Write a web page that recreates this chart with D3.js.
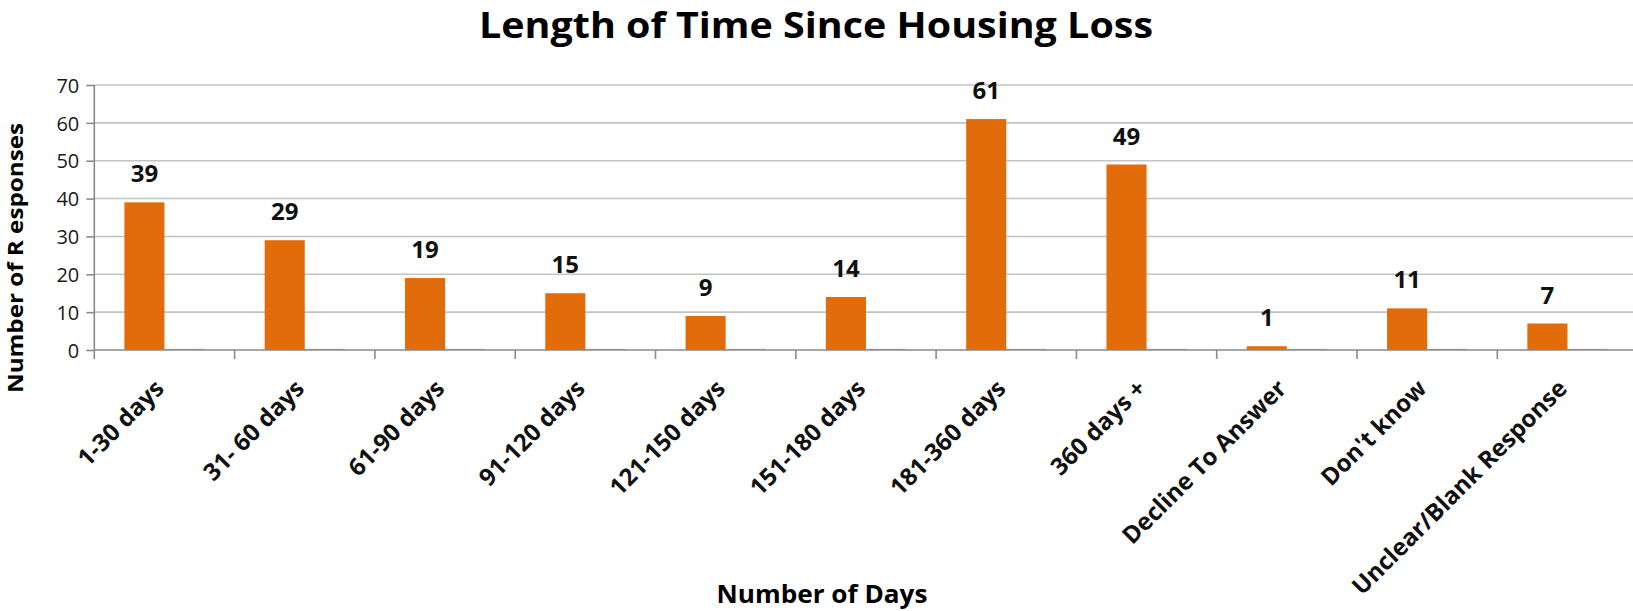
<!DOCTYPE html>
<html>
<head>
<meta charset="utf-8">
<script src="https://cdn.jsdelivr.net/npm/d3@7/dist/d3.min.js"></script>
<style>
  html, body { margin: 0; padding: 0; background: #fff; }
  svg { display: block; }
  text { font-family: "Open Sans", "Liberation Sans", sans-serif; }
</style>
</head>
<body>
<svg id="chart" width="1633" height="611"></svg>
<script>
const categories = ["1-30 days", "31- 60 days", "61-90 days", "91-120 days", "121-150 days",
  "151-180 days", "181-360 days", "360 days +", "Decline To Answer", "Don't know",
  "Unclear/Blank Response"];
const responses = [39, 29, 19, 15, 9, 14, 61, 49, 1, 11, 7];
const secondSeries = [0, 0, 0, 0, 0, 0, 0, 0, 0, 0, 0];
const yTicks = [0, 10, 20, 30, 40, 50, 60, 70];
const titleText = "Length of Time Since Housing Loss";
const xTitleText = "Number of Days";
const yTitleText = "Number of R esponses";

(function () {
const W = 1633, H = 611;
const plotLeft = 94.3, plotTop = 85, plotBottom = 350;
const band = 140.3;
const svg = d3.select("#chart");

const x = d3.scaleBand().domain(categories)
  .range([plotLeft, plotLeft + band * categories.length]).paddingInner(0).paddingOuter(0);
const xs = d3.scaleBand().domain(["a", "b"]).range([0, x.bandwidth()])
  .paddingInner(0).paddingOuter(0.75);
const y = d3.scaleLinear().domain([0, 70]).range([plotBottom, plotTop]);

// gridlines
svg.append("g").selectAll("line").data(yTicks.filter(d => d > 0)).join("line")
  .attr("x1", plotLeft).attr("x2", W)
  .attr("y1", d => y(d)).attr("y2", d => y(d))
  .attr("stroke", "#c3c3c3").attr("stroke-width", 1.6);

// y axis
const yAxis = d3.axisLeft(y).tickValues(yTicks).tickSize(8).tickPadding(7).tickFormat(d3.format("d"));
const gy = svg.append("g").attr("transform", `translate(${plotLeft},0)`).call(yAxis);
gy.select(".domain").attr("stroke", "#8a8a8a").attr("stroke-width", 1.6)
  .attr("d", `M0,${plotTop}V${plotBottom + 9}`);
gy.selectAll(".tick line").attr("stroke", "#8a8a8a").attr("stroke-width", 1.6);
gy.selectAll(".tick text").attr("font-size", 20).attr("fill", "#1a1a1a")
  .attr("font-family", "Open Sans").attr("dy", "0.36em");

// bars
svg.append("g").selectAll("rect").data(responses).join("rect")
  .attr("x", (d, i) => x(categories[i]) + xs("a"))
  .attr("width", xs.bandwidth())
  .attr("y", d => y(d))
  .attr("height", d => y(0) - y(d))
  .attr("fill", "#e36c0a");

// second (zero) series
svg.append("g").selectAll("rect").data(secondSeries).join("rect")
  .attr("x", (d, i) => x(categories[i]) + xs("b"))
  .attr("width", xs.bandwidth())
  .attr("y", d => y(d) - 1.2)
  .attr("height", d => y(0) - y(d) + 1.2)
  .attr("fill", "#9c6a60").attr("opacity", 0.55);

// x axis
svg.append("line").attr("x1", plotLeft).attr("x2", W).attr("y1", plotBottom).attr("y2", plotBottom)
  .attr("stroke", "#8a8a8a").attr("stroke-width", 1.6);
const boundaries = d3.range(1, categories.length + 1).map(i => i === categories.length ? x.range()[1] : x(categories[i]));
svg.append("g").selectAll("line").data(boundaries).join("line")
  .attr("x1", d => d).attr("x2", d => d)
  .attr("y1", plotBottom).attr("y2", plotBottom + 9)
  .attr("stroke", "#8a8a8a").attr("stroke-width", 1.6);

// data labels
svg.append("g").selectAll("text").data(responses).join("text")
  .attr("x", (d, i) => x(categories[i]) + xs("a") + xs.bandwidth() / 2)
  .attr("y", d => y(d) - 20)
  .attr("text-anchor", "middle")
  .attr("font-size", 24).attr("font-weight", 700).attr("fill", "#111")
  .text(d => d);

// category labels
svg.append("g").selectAll("text").data(categories).join("text")
  .attr("transform", d => `translate(${x(d) + x.bandwidth() / 2 + 1},${plotBottom + 40}) rotate(-45)`)
  .attr("text-anchor", "end")
  .attr("font-size", 24).attr("font-weight", 700).attr("fill", "#111")
  .text(d => d);

// title
svg.append("text").attr("x", 816).attr("y", 38).attr("text-anchor", "middle")
  .attr("font-size", 35).attr("font-weight", 700).attr("fill", "#000")
  .attr("textLength", 674).attr("lengthAdjust", "spacingAndGlyphs")
  .text(titleText);

// x axis title
svg.append("text").attr("x", 822).attr("y", 603).attr("text-anchor", "middle")
  .attr("font-size", 25).attr("font-weight", 700).attr("fill", "#000")
  .attr("textLength", 211).attr("lengthAdjust", "spacingAndGlyphs")
  .text(xTitleText);

// y axis title
svg.append("text").attr("transform", "translate(23,258) rotate(-90)").attr("text-anchor", "middle")
  .attr("font-size", 22).attr("font-weight", 700).attr("fill", "#000")
  .attr("textLength", 270).attr("lengthAdjust", "spacingAndGlyphs")
  .text(yTitleText);
})();
</script>
</body>
</html>
